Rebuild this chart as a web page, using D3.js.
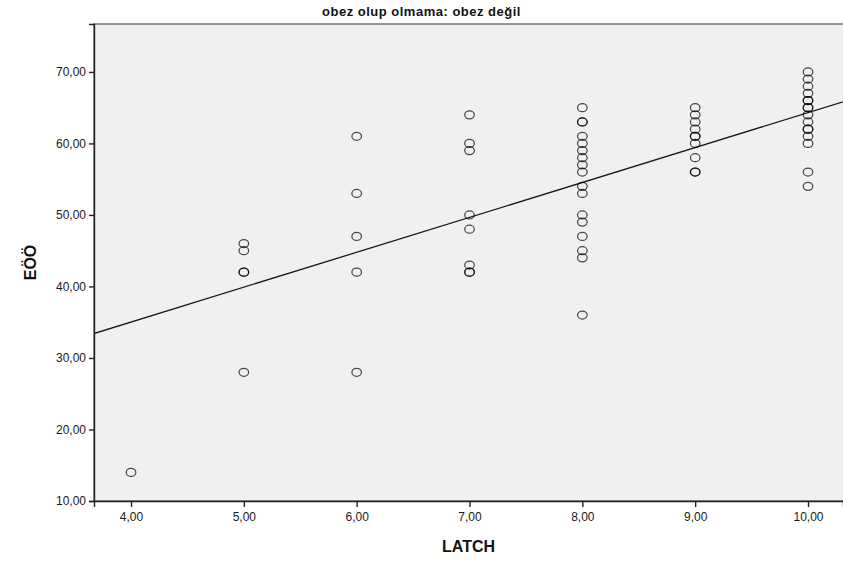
<!DOCTYPE html>
<html>
<head>
<meta charset="utf-8">
<script src="https://cdn.jsdelivr.net/npm/d3@7"></script>
<style>
  body { margin: 0; background: #fff; }
  svg { display: block; }
</style>
</head>
<body>
<div id="chart"></div>
<script>
// LATCH (x) vs EÖÖ (y), grup: obez değil
// repeated pairs are overlapping markers (they render darker)
const latch = [
  4,
  5, 5, 5, 5, 5,
  6, 6, 6, 6, 6,
  7, 7, 7, 7, 7, 7, 7, 7,
  8, 8, 8, 8, 8, 8, 8, 8, 8, 8, 8, 8, 8, 8, 8, 8, 8,
  9, 9, 9, 9, 9, 9, 9, 9, 9, 9,
  10, 10, 10, 10, 10, 10, 10, 10, 10, 10, 10, 10, 10, 10, 10, 10
];
const eoo = [
  14,
  46, 45, 42, 42, 28,
  61, 53, 47, 42, 28,
  64, 60, 59, 50, 48, 43, 42, 42,
  65, 63, 63, 61, 60, 59, 58, 57, 56, 54, 53, 50, 49, 47, 45, 44, 36,
  65, 64, 63, 62, 61, 60, 58, 56, 56, 61,
  70, 69, 68, 67, 66, 66, 65, 65, 64, 63, 62, 61, 60, 56, 54, 62
];

const xTicks = [4, 5, 6, 7, 8, 9, 10];
const yTicks = [10, 20, 30, 40, 50, 60, 70];

// fit line
const fitIntercept = 15.5;
const fitSlope = 4.88;

const title = "obez olup olmama: obez değil";
const xTitle = "LATCH";
const yTitle = "EÖÖ";

const width = 843, height = 561;
const margin = { top: 24, right: 0, bottom: 60, left: 94 };
const innerW = width - margin.left - margin.right;
const innerH = height - margin.top - margin.bottom;

const fmt = d3.formatLocale({ decimal: ",", thousands: ".", grouping: [3], currency: ["", ""] }).format(".2f");

const svg = d3.select("#chart").append("svg")
  .attr("width", width)
  .attr("height", height)
  .style("font-family", "'Liberation Sans', Arial, sans-serif");

const x = d3.scaleLinear().domain([3.672, 10.31]).range([0, innerW]);
const y = d3.scaleLinear().domain([10, 76.7]).range([innerH, 0]);

const g = svg.append("g").attr("transform", `translate(${margin.left},${margin.top})`);

svg.append("defs").append("clipPath").attr("id", "plotClip")
  .append("rect").attr("width", innerW).attr("height", innerH);

// fondo
g.append("rect")
  .attr("width", innerW + 2)
  .attr("height", innerH)
  .attr("fill", "#f0f0f0")
  .attr("stroke", "#555")
  .attr("stroke-width", 1.2);

// línea de ajuste
const xd = x.domain();
g.append("line")
  .attr("clip-path", "url(#plotClip)")
  .attr("x1", x(xd[0])).attr("y1", y(fitIntercept + fitSlope * xd[0]))
  .attr("x2", x(xd[1])).attr("y2", y(fitIntercept + fitSlope * xd[1]))
  .attr("stroke", "#1a1a1a")
  .attr("stroke-width", 1.3);

// puntos
g.append("g").selectAll("ellipse")
  .data(latch.map((d, i) => ({ lx: d, ey: eoo[i] })))
  .join("ellipse")
  .attr("cx", d => x(d.lx))
  .attr("cy", d => y(d.ey))
  .attr("rx", 4.8)
  .attr("ry", 4)
  .attr("fill", "none")
  .attr("stroke", "#000")
  .attr("stroke-opacity", 0.7)
  .attr("stroke-width", 1.25);

// ejes
const xAxis = g.append("g")
  .attr("transform", `translate(0,${innerH})`)
  .call(d3.axisBottom(x).tickValues(xTicks).tickFormat(fmt).tickSize(6).tickPadding(5));

const yAxis = g.append("g")
  .call(d3.axisLeft(y).tickValues(yTicks).tickFormat(fmt).tickSize(5).tickPadding(3));

[xAxis, yAxis].forEach(a => {
  a.select(".domain").attr("stroke", "#222").attr("stroke-width", 1.4);
  a.selectAll(".tick line").attr("stroke", "#222").attr("stroke-width", 1.4);
  a.selectAll("text")
    .attr("fill", "#1a1a1a")
    .attr("font-size", 12)
    .attr("font-family", "'Liberation Sans', Arial, sans-serif");
});

// títulos
svg.append("text")
  .attr("x", width / 2)
  .attr("y", 16)
  .attr("text-anchor", "middle")
  .attr("font-size", 13)
  .attr("font-weight", "bold")
  .attr("letter-spacing", 0.5)
  .attr("font-family", "'Liberation Sans Narrow', 'Liberation Sans', Arial, sans-serif")
  .attr("fill", "#111")
  .text(title);

svg.append("text")
  .attr("x", margin.left + (width - margin.left) / 2)
  .attr("y", 552)
  .attr("text-anchor", "middle")
  .attr("font-size", 16)
  .attr("font-weight", "bold")
  .attr("fill", "#111")
  .text(xTitle);

svg.append("text")
  .attr("transform", `translate(36,${margin.top + innerH / 2}) rotate(-90)`)
  .attr("text-anchor", "middle")
  .attr("font-size", 16)
  .attr("font-weight", "bold")
  .attr("fill", "#111")
  .text(yTitle);
</script>
</body>
</html>
